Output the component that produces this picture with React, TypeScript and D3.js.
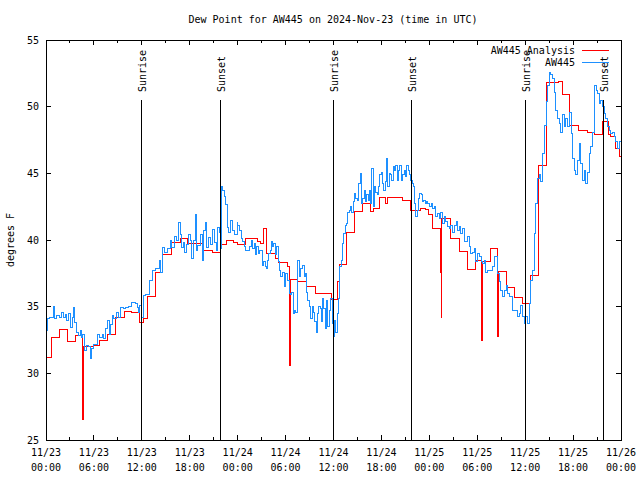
import React from 'react';
import * as d3 from 'd3';

const title = 'Dew Point for AW445 on 2024-Nov-23 (time in UTC)';
const yLabel = 'degrees F';
const seriesNames = ['AW445 Analysis', 'AW445'];
const seriesColors = ['#ff0000', '#1e90ff'];
const yTicks = [25, 30, 35, 40, 45, 50, 55];
const xTickHours = [0, 6, 12, 18, 24, 30, 36, 42, 48, 54, 60, 66, 72];
const xTickDates = ['11/23', '11/23', '11/23', '11/23', '11/24', '11/24', '11/24', '11/24', '11/25', '11/25', '11/25', '11/25', '11/26'];
const xTickTimes = ['00:00', '06:00', '12:00', '18:00', '00:00', '06:00', '12:00', '18:00', '00:00', '06:00', '12:00', '18:00', '00:00'];
const sunLabels = ['Sunrise', 'Sunset', 'Sunrise', 'Sunset', 'Sunrise', 'Sunset'];
const sunHours = [11.94, 21.79, 35.98, 45.74, 60.02, 69.78];

// Analysis (hours since 11/23 00:00 UTC, deg F), step after
const analysis: [number, number][] = [
  [0, 31.17], [0.67, 32.7], [1.67, 33.27], [2.67, 32.37], [3.71, 32.85], [4.55, 29.4], [4.6, 26.55], [4.68, 29.0], [4.75, 32.0],
  [5.93, 32.1], [6.76, 32.5], [7.68, 32.9], [8.72, 34.2], [9.77, 34.65], [10.68, 34.6], [11.69, 33.85], [12.27, 34.1], [12.77, 35.8],
  [13.77, 37.53], [14.57, 38.9], [15.73, 39.78], [16.78, 40.12], [17.7, 39.75], [19.78, 39.2], [20.83, 39.08], [21.79, 39.7],
  [22.62, 40.0], [23.54, 39.83], [24.0, 39.7], [25.04, 40.08], [26.5, 39.9], [26.8, 39.75], [27.21, 40.9], [27.63, 39.0],
  [28.71, 38.6], [29.13, 38.3], [30.26, 38.0], [30.47, 34.25], [30.55, 30.6], [30.62, 37.05], [31.51, 36.9], [32.64, 36.55],
  [33.72, 36.0], [35.81, 35.55], [36.52, 36.9], [36.81, 38.2], [37.65, 40.58], [38.6, 42.12], [39.65, 42.75], [40.69, 42.12],
  [40.99, 42.38], [41.74, 43.2], [42.57, 42.75], [42.78, 43.2], [44.66, 43.0], [45.7, 42.2], [46.95, 42.4], [47.58, 42.3],
  [47.91, 41.95], [48.41, 40.88], [49.46, 37.6], [49.52, 34.2], [49.58, 41.62], [50.71, 40.12], [51.75, 39.12], [52.8, 37.8],
  [53.76, 38.5], [54.47, 35.5], [54.52, 32.5], [54.6, 38.38], [55.72, 39.38], [56.55, 32.75], [56.62, 37.62], [57.6, 36.45],
  [58.64, 35.7], [59.68, 35.25], [60.73, 37.32], [61.65, 45.58], [62.69, 51.8], [64.19, 51.9], [64.69, 50.9], [65.61, 48.62],
  [66.7, 48.2], [67.82, 48.05], [68.66, 47.92], [69.7, 48.88], [70.45, 47.95], [70.74, 47.75], [71.37, 46.88], [71.79, 46.25],
  [72, 46.25],
];

// Observations AW445
const obsDay1: [number, number][] = [
  [0, 33.2], [0.25, 34.15], [0.5, 34.2], [0.88, 34.85], [1.0, 35.0], [1.09, 34.1], [1.34, 34.35], [1.63, 34.2], [1.92, 34.6],
  [2.17, 34.2], [2.38, 34.45], [2.59, 33.95], [2.8, 34.5], [3.09, 33.45], [3.3, 34.2], [3.42, 34.95], [3.59, 33.85], [3.76, 33.2],
  [3.84, 33.1], [4.05, 32.85], [4.26, 33.2], [4.42, 32.7], [4.55, 32.95], [4.76, 32.2], [4.84, 31.7], [5.09, 32.1], [5.38, 32.0],
  [5.51, 31.1], [5.68, 31.85], [5.93, 32.15], [6.22, 32.2], [6.43, 32.9], [6.76, 32.7], [7.05, 32.95], [7.18, 32.6], [7.47, 33.35],
  [7.68, 33.95], [7.89, 32.95], [8.1, 33.7], [8.31, 34.35], [8.51, 34.1], [8.85, 34.6], [9.02, 34.2], [9.35, 34.95], [9.68, 34.85],
  [9.97, 34.95], [10.39, 35.0], [10.68, 35.35], [11.23, 35.25], [11.44, 34.95], [11.64, 34.6], [11.77, 35.1], [11.94, 34.2],
  [12.19, 35.85], [12.48, 35.95], [12.9, 36.95], [13.31, 37.7], [13.73, 37.85], [14.15, 38.45], [14.36, 37.6], [14.57, 39.45],
  [14.86, 39.1], [15.19, 39.35], [15.53, 39.95], [15.73, 39.45], [16.03, 40.3], [16.36, 39.95], [16.57, 41.3], [16.78, 40.45],
  [16.94, 39.45], [17.2, 39.8], [17.36, 39.1], [17.61, 39.7], [17.86, 40.45], [18.11, 39.95], [18.24, 38.6], [18.53, 39.95],
  [18.74, 41.95], [18.86, 39.2], [19.03, 39.6], [19.37, 40.45], [19.57, 38.45], [19.78, 40.7], [19.91, 41.3], [20.12, 39.45],
  [20.41, 40.2], [20.62, 39.7], [20.83, 40.8], [21.04, 39.8], [21.37, 39.2], [21.45, 40.95], [21.7, 40.55], [21.79, 39.35],
  [21.95, 44.05], [22.16, 43.7], [22.29, 43.3], [22.5, 42.7], [22.7, 40.95], [22.91, 40.55], [23.12, 41.45], [23.33, 40.7],
  [23.62, 40.45], [23.96, 41.3],
];

const obsDay2: [number, number][] = [
  [24.0, 41.1], [24.21, 40.75], [24.42, 40.1], [24.62, 39.9], [24.83, 39.5], [25.04, 39.25], [25.25, 39.2], [25.46, 39.5],
  [25.67, 40.0], [25.88, 39.4], [26.09, 39.75], [26.21, 38.9], [26.38, 39.5], [26.63, 39.0], [26.79, 39.25], [27.05, 38.1],
  [27.21, 38.4], [27.46, 38.0], [27.63, 37.9], [27.76, 38.5], [27.88, 39.0], [28.05, 39.25], [28.21, 39.9], [28.38, 39.5],
  [28.51, 39.75], [28.71, 38.9], [28.88, 39.5], [29.13, 38.4], [29.3, 37.75], [29.42, 37.25], [29.63, 37.6], [29.84, 36.5],
  [30.05, 37.5], [30.26, 37.0], [30.47, 36.0], [30.59, 35.9], [30.8, 36.1], [30.97, 34.5], [31.14, 34.75], [31.3, 34.6],
  [31.51, 38.5], [31.72, 37.25], [31.93, 37.9], [32.14, 38.1], [32.35, 37.25], [32.47, 37.5], [32.64, 36.1], [32.8, 35.5],
  [32.97, 35.0], [33.14, 34.1], [33.31, 35.0], [33.47, 34.6], [33.64, 33.9], [33.81, 33.1], [33.97, 34.5], [34.14, 35.0],
  [34.31, 34.9], [34.47, 33.9], [34.64, 35.6], [34.81, 34.9], [34.98, 33.4], [35.14, 35.5], [35.31, 33.5], [35.48, 34.75],
  [35.68, 35.6], [35.89, 33.75], [35.98, 32.75], [36.14, 34.0], [36.31, 33.1], [36.48, 34.5], [36.64, 35.6], [36.81, 38.0],
  [36.98, 38.5], [37.15, 39.75], [37.31, 40.5], [37.48, 41.1], [37.65, 41.25], [37.81, 42.1], [37.98, 42.25], [38.15, 42.5],
  [38.31, 42.1], [38.48, 42.9], [38.65, 43.5], [38.81, 43.1], [38.98, 43.0], [39.15, 44.25], [39.32, 45.0], [39.48, 42.75],
  [39.65, 43.1], [39.82, 43.75], [39.98, 42.9], [40.15, 43.4], [40.32, 43.0], [40.48, 43.75], [40.65, 42.75], [40.82, 45.4],
  [40.99, 42.5], [41.15, 44.0], [41.32, 43.6], [41.49, 43.4], [41.65, 44.0], [41.82, 44.9], [41.99, 45.1], [42.15, 44.25],
  [42.32, 43.75], [42.49, 44.4], [42.65, 46.1], [42.82, 44.0], [42.99, 45.0], [43.16, 44.9], [43.32, 44.5], [43.49, 45.5],
  [43.66, 45.25], [43.82, 45.6], [43.99, 44.5], [44.16, 45.25], [44.32, 45.6], [44.49, 44.5], [44.66, 44.9], [44.83, 45.25],
  [44.99, 44.75], [45.16, 45.6], [45.33, 45.25], [45.49, 44.9], [45.66, 44.5], [45.83, 44.25], [45.99, 44.0], [46.16, 42.75],
  [46.33, 41.75], [46.5, 42.25], [46.66, 43.1], [46.83, 43.5], [47.0, 43.4], [47.16, 42.9], [47.33, 43.0], [47.5, 42.75],
  [47.66, 42.9], [47.83, 42.75],
];

const obsDay3: [number, number][] = [
  [48.0, 42.55], [48.21, 42.75], [48.41, 42.4], [48.62, 42.5], [48.83, 41.75], [49.04, 42.0], [49.25, 41.6], [49.46, 42.1],
  [49.67, 41.25], [49.88, 41.75], [50.08, 41.4], [50.29, 41.0], [50.5, 40.9], [50.71, 41.1], [50.92, 40.6], [51.13, 41.1],
  [51.34, 41.4], [51.54, 40.75], [51.75, 41.0], [51.96, 40.5], [52.17, 40.9], [52.38, 39.9], [52.59, 39.9], [52.8, 40.25],
  [53.0, 39.5], [53.21, 39.0], [53.42, 39.1], [53.63, 39.4], [53.84, 38.4], [54.05, 39.0], [54.26, 38.75], [54.47, 38.4],
  [54.68, 38.25], [54.88, 38.5], [55.09, 37.6], [55.3, 37.75], [55.51, 37.7], [55.72, 37.7], [55.93, 38.0], [56.14, 38.75],
  [56.34, 38.75], [56.55, 37.5], [56.76, 36.9], [56.97, 36.25], [57.18, 35.75], [57.39, 36.25], [57.6, 36.6], [57.81, 36.0],
  [58.01, 35.75], [58.22, 35.75], [58.43, 34.75], [58.64, 34.75], [58.85, 34.75], [59.06, 34.25], [59.27, 34.5], [59.47, 35.1],
  [59.68, 34.25], [59.89, 33.75], [60.1, 34.25], [60.31, 33.75], [60.52, 35.25], [60.73, 37.0], [60.94, 37.75], [61.14, 40.5],
  [61.35, 42.75], [61.56, 44.6], [61.77, 44.9], [61.98, 44.4], [62.19, 46.5], [62.4, 48.6], [62.61, 50.4], [62.81, 51.6],
  [63.02, 52.6], [63.23, 52.4], [63.44, 52.1], [63.65, 51.1], [63.86, 49.75], [64.07, 49.1], [64.27, 48.75], [64.48, 48.1],
  [64.69, 49.4], [64.9, 48.5], [65.11, 49.1], [65.32, 48.5], [65.53, 49.6], [65.74, 48.0], [65.94, 46.1], [66.15, 45.25],
  [66.36, 44.9], [66.57, 46.0], [66.78, 47.25], [66.99, 45.75], [67.2, 44.5], [67.4, 45.25], [67.61, 44.25], [67.82, 45.1],
  [68.03, 46.5], [68.24, 47.0], [68.45, 48.1], [68.66, 51.6], [68.87, 51.25], [69.07, 51.0], [69.28, 50.25], [69.49, 50.5],
  [69.7, 50.0], [69.91, 49.5], [70.12, 49.1], [70.33, 48.5], [70.54, 48.25], [70.74, 48.0], [70.95, 48.1], [71.16, 47.75],
  [71.37, 47.4], [71.58, 46.9], [71.79, 47.4], [72.0, 47.1],
];

const W = 640;
const H = 480;
const M = { left: 46, right: 19, top: 40, bottom: 40 };
const FONT = "'DejaVu Sans Mono', 'Liberation Mono', monospace";
const SUN_LINE_TOP = 0.85; // graph fraction
const SUN_LABEL_POS = 0.87;

export default function App() {
  const x = d3.scaleLinear().domain([0, 72]).range([M.left, W - M.right]);
  const y = d3.scaleLinear().domain([25, 55]).range([H - M.bottom, M.top]);
  const line = d3
    .line<[number, number]>()
    .x((d) => x(d[0]))
    .y((d) => y(d[1]))
    .curve(d3.curveStepAfter);
  const obs = [...obsDay1, ...obsDay2, ...obsDay3];
  const x0 = M.left;
  const x1 = W - M.right;
  const yb = H - M.bottom;
  const yt = M.top;
  const minorTicks = d3.range(3, 72, 3);
  const fy = (f: number) => yb - f * (yb - yt);

  return (
    <svg
      width={W}
      height={H}
      style={{ position: 'absolute', left: 0, top: 0, background: '#fff' }}
      fontFamily={FONT}
      fontSize={10}
    >
      <rect x={0} y={0} width={W} height={H} fill="#fff" />
      <text x={333} y={23} textAnchor="middle" fill="#000">{title}</text>
      <text transform={`translate(14,${(yt + yb) / 2}) rotate(-90)`} textAnchor="middle" fill="#000">{yLabel}</text>

      <g shapeRendering="crispEdges" stroke="#000" strokeWidth={1}>
        {yTicks.map((t) => (
          <g key={`yt${t}`}>
            <line x1={x0} x2={x0 + 5} y1={y(t)} y2={y(t)} />
            <line x1={x1} x2={x1 - 5} y1={y(t)} y2={y(t)} />
          </g>
        ))}
        {minorTicks.map((h) => {
          const len = h % 6 === 0 ? 5 : 3;
          return (
            <g key={`xt${h}`}>
              <line x1={x(h)} x2={x(h)} y1={yb} y2={yb - len} />
              <line x1={x(h)} x2={x(h)} y1={yt} y2={yt + len} />
            </g>
          );
        })}
      </g>

      {yTicks.map((t) => (
        <text key={`yl${t}`} x={39} y={y(t) + 3.6} textAnchor="end" fill="#000">{t}</text>
      ))}
      {xTickHours.map((h, i) => (
        <g key={`xl${h}`}>
          <text x={x(h)} y={456} textAnchor="middle" fill="#000">{xTickDates[i]}</text>
          <text x={x(h)} y={471} textAnchor="middle" fill="#000">{xTickTimes[i]}</text>
        </g>
      ))}

      <path d={line(analysis) || ''} fill="none" stroke={seriesColors[0]} strokeWidth={1} shapeRendering="crispEdges" />
      <path d={line(obs) || ''} fill="none" stroke={seriesColors[1]} strokeWidth={1} shapeRendering="crispEdges" />

      {sunHours.map((h, i) => (
        <g key={`sun${i}`}>
          <line x1={x(h)} x2={x(h)} y1={fy(SUN_LINE_TOP)} y2={yb} stroke="#000" strokeWidth={1} shapeRendering="crispEdges" />
          <text transform={`translate(${x(h) + 4.5},${fy(SUN_LABEL_POS)}) rotate(-90)`} fill="#000">{sunLabels[i]}</text>
        </g>
      ))}

      <rect x={x0} y={yt} width={x1 - x0} height={yb - yt} fill="none" stroke="#000" strokeWidth={1} shapeRendering="crispEdges" />

      {seriesNames.map((n, i) => (
        <g key={`lg${i}`}>
          <text x={575} y={53.7 + i * 12.3} textAnchor="end" fill="#000">{n}</text>
          <line x1={582} x2={609} y1={50 + i * 12.3} y2={50 + i * 12.3} stroke={seriesColors[i]} strokeWidth={1} shapeRendering="crispEdges" />
        </g>
      ))}
    </svg>
  );
}
